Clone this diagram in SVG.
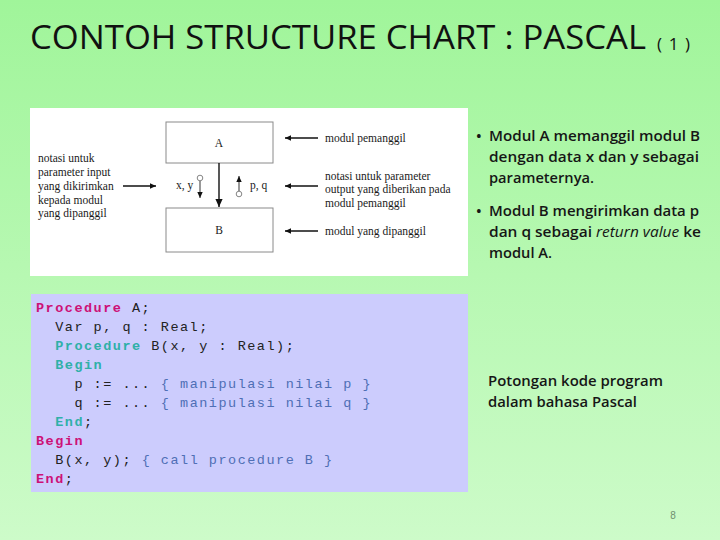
<svg xmlns="http://www.w3.org/2000/svg" width="720" height="540" viewBox="0 0 720 540">
<defs>
<linearGradient id="bg" x1="0" y1="0" x2="0" y2="1">
<stop offset="0" stop-color="#a0f59a"/>
<stop offset="1" stop-color="#cdfbc9"/>
</linearGradient>
<marker id="ahBig" viewBox="0 0 10 10" refX="10" refY="5" markerUnits="userSpaceOnUse" markerWidth="8" markerHeight="8" orient="auto">
<path d="M0,0.5 L10,5 L0,9.5 Z" fill="#111"/>
</marker>
<marker id="ahSmall" viewBox="0 0 10 10" refX="10" refY="5" markerUnits="userSpaceOnUse" markerWidth="6" markerHeight="6" orient="auto">
<path d="M0,0.5 L10,5 L0,9.5 Z" fill="#111"/>
</marker>
<marker id="ahNote" viewBox="0 0 10 10" refX="10" refY="5" markerUnits="userSpaceOnUse" markerWidth="7" markerHeight="6" orient="auto">
<path d="M0,0.5 L10,5 L0,9.5 Z" fill="#111"/>
</marker>
<style>
.serif{font-family:"Liberation Serif","Times New Roman",serif;font-size:11.5px;fill:#1a1a1a}
.box{fill:#fff;stroke:#8a8a8a;stroke-width:1}
.code{font-family:"Liberation Mono","Courier New",monospace;font-size:13.5px;letter-spacing:1.5px;fill:#222}
.kw1{fill:#cc1177;font-weight:bold}
.kw2{fill:#2fb0a8;font-weight:bold}
.cm{fill:#4f6fb5}
.bul{font-family:"Open Sans","Noto Sans","Liberation Sans",sans-serif;font-size:15px;font-weight:600;fill:#161616}
.note{stroke:#111;stroke-width:1.4;fill:none}
.flow{stroke:#555;stroke-width:1.2;fill:none}
</style>
</defs>
<rect x="0" y="0" width="720" height="540" fill="url(#bg)"/>

<g id="title">
<text x="30" y="49" font-family="'Open Sans','Noto Sans','Liberation Sans',sans-serif" font-size="32" fill="#111" textLength="616" lengthAdjust="spacingAndGlyphs">CONTOH STRUCTURE CHART : PASCAL</text>
<text x="657" y="50" font-family="'Open Sans','Noto Sans','Liberation Sans',sans-serif" font-size="17" fill="#111" textLength="33" lengthAdjust="spacing">(1)</text>
</g>

<g id="diagram-panel">
<rect x="30" y="108" width="438" height="168" fill="#ffffff"/>
</g>

<g id="node-A">
<rect class="box" x="166" y="122" width="107" height="41"/>
<text class="serif" x="219" y="147" text-anchor="middle">A</text>
</g>
<g id="node-B">
<rect class="box" x="166" y="208" width="107" height="44"/>
<text class="serif" x="219" y="234" text-anchor="middle">B</text>
</g>

<g id="label-input">
<text class="serif" x="38" y="162">notasi untuk</text>
<text class="serif" x="38" y="176">parameter input</text>
<text class="serif" x="38" y="190">yang dikirimkan</text>
<text class="serif" x="38" y="204">kepada modul</text>
<text class="serif" x="38" y="217">yang dipanggil</text>
</g>
<g id="label-caller">
<text class="serif" x="325" y="142">modul pemanggil</text>
</g>
<g id="label-output">
<text class="serif" x="325" y="180">notasi untuk parameter</text>
<text class="serif" x="325" y="193">output yang diberikan pada</text>
<text class="serif" x="325" y="207">modul pemanggil</text>
</g>
<g id="label-called">
<text class="serif" x="325" y="235">modul yang dipanggil</text>
</g>
<g id="param-labels">
<text class="serif" x="176" y="189">x, y</text>
<text class="serif" x="250" y="189">p, q</text>
</g>

<g id="connectors">
<line class="note" x1="219" y1="163" x2="219" y2="207" stroke-width="1" marker-end="url(#ahBig)"/>
<circle cx="200" cy="178" r="2.8" fill="#fff" stroke="#777" stroke-width="0.9"/>
<line class="flow" x1="200" y1="181" x2="200" y2="198" marker-end="url(#ahSmall)"/>
<circle cx="239" cy="194" r="2.8" fill="#fff" stroke="#777" stroke-width="0.9"/>
<line class="flow" x1="239" y1="191" x2="239" y2="176" marker-end="url(#ahSmall)"/>
<line class="note" x1="123" y1="186" x2="156" y2="186" marker-end="url(#ahNote)"/>
<line class="note" x1="318" y1="138" x2="285" y2="138" marker-end="url(#ahNote)"/>
<line class="note" x1="318" y1="186" x2="285" y2="186" marker-end="url(#ahNote)"/>
<line class="note" x1="318" y1="231" x2="285" y2="231" marker-end="url(#ahNote)"/>
</g>

<g id="bullets">
<text class="bul" x="476" y="141">•</text>
<text class="bul" x="489" y="141" textLength="211" lengthAdjust="spacingAndGlyphs">Modul A memanggil modul B</text>
<text class="bul" x="489" y="162" textLength="210" lengthAdjust="spacingAndGlyphs">dengan data x dan y sebagai</text>
<text class="bul" x="489" y="183" textLength="105" lengthAdjust="spacingAndGlyphs">parameternya.</text>
<text class="bul" x="476" y="216">•</text>
<text class="bul" x="489" y="216" textLength="210" lengthAdjust="spacingAndGlyphs">Modul B mengirimkan data p</text>
<text class="bul" x="489" y="237" textLength="212" lengthAdjust="spacingAndGlyphs">dan q sebagai <tspan font-style="italic" font-weight="normal">return value</tspan> ke</text>
<text class="bul" x="489" y="258" textLength="63" lengthAdjust="spacingAndGlyphs">modul A.</text>
</g>

<g id="code-panel">
<rect x="31" y="294" width="437" height="198" fill="#ccccfd"/>
<text class="code" xml:space="preserve" x="36" y="312"><tspan class="kw1">Procedure</tspan> A;</text>
<text class="code" xml:space="preserve" x="36" y="331">  Var p, q : Real;</text>
<text class="code" xml:space="preserve" x="36" y="350">  <tspan class="kw2">Procedure</tspan> B(x, y : Real);</text>
<text class="code" xml:space="preserve" x="36" y="369">  <tspan class="kw2">Begin</tspan></text>
<text class="code" xml:space="preserve" x="36" y="388">    p := ... <tspan class="cm">{ manipulasi nilai p }</tspan></text>
<text class="code" xml:space="preserve" x="36" y="407">    q := ... <tspan class="cm">{ manipulasi nilai q }</tspan></text>
<text class="code" xml:space="preserve" x="36" y="426">  <tspan class="kw2">End</tspan>;</text>
<text class="code" xml:space="preserve" x="36" y="445"><tspan class="kw1">Begin</tspan></text>
<text class="code" xml:space="preserve" x="36" y="464">  B(x, y); <tspan class="cm">{ call procedure B }</tspan></text>
<text class="code" xml:space="preserve" x="36" y="483"><tspan class="kw1">End</tspan>;</text>
</g>

<g id="code-caption">
<text x="488" y="386" font-family="'Open Sans','Noto Sans','Liberation Sans',sans-serif" font-size="13.5" font-weight="600" fill="#161616" textLength="175" lengthAdjust="spacingAndGlyphs">Potongan kode program</text>
<text x="488" y="407" font-family="'Open Sans','Noto Sans','Liberation Sans',sans-serif" font-size="13.5" font-weight="600" fill="#161616" textLength="149" lengthAdjust="spacingAndGlyphs">dalam bahasa Pascal</text>
</g>

<g id="page-number">
<text x="673" y="519" text-anchor="middle" font-family="'Liberation Sans',sans-serif" font-size="10" fill="#6f8f6f">8</text>
</g>
</svg>
